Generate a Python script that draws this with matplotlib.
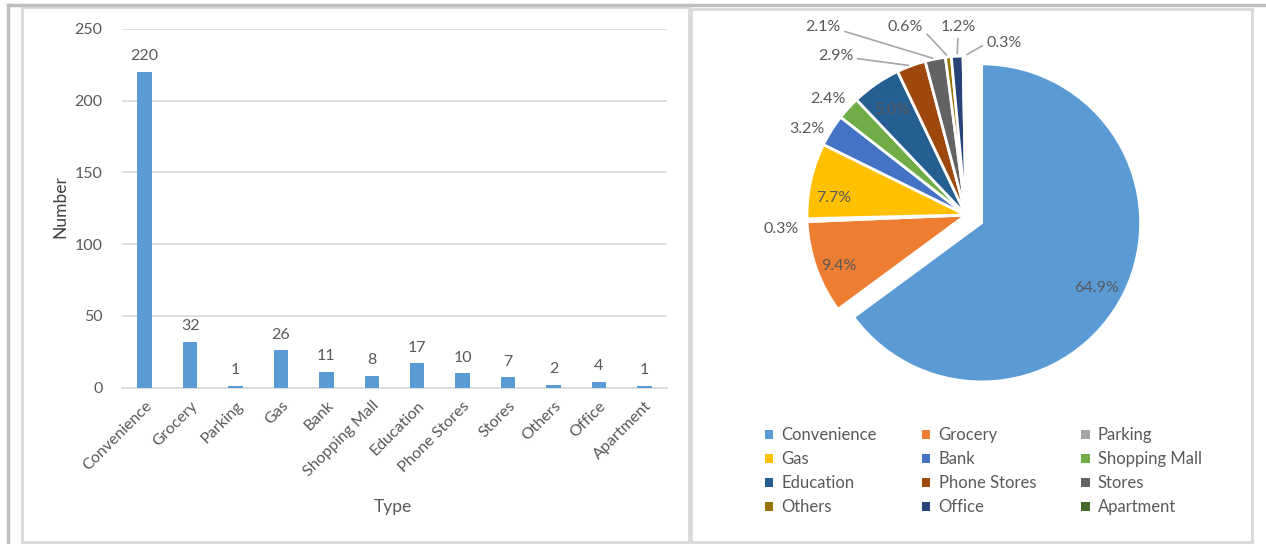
import numpy as np
import matplotlib.pyplot as plt
from matplotlib.patches import Rectangle
from matplotlib.lines import Line2D

plt.rcParams['font.family'] = ['Lato', 'DejaVu Sans']

# data
types = ['Convenience', 'Grocery', 'Parking', 'Gas', 'Bank', 'Shopping Mall',
         'Education', 'Phone Stores', 'Stores', 'Others', 'Office', 'Apartment']
counts = [220, 32, 1, 26, 11, 8, 17, 10, 7, 2, 4, 1]
yticks = [0, 50, 100, 150, 200, 250]

pie_colors = ['#5B9BD5', '#ED7D31', '#A5A5A5', '#FFC000', '#4472C4', '#70AD47',
              '#255E91', '#9E480E', '#636363', '#997300', '#264478', '#43682B']

W, H = 1266, 544
txt = '#595959'

fig = plt.figure(figsize=(W / 100, H / 100), dpi=100)

def fbox(x0, y0, x1, y1):
    # pixel box (top-left origin) -> figure fraction rect
    return [x0 / W, 1 - y1 / H, (x1 - x0) / W, (y1 - y0) / H]

# panel frames
fig.add_artist(Line2D([8 / W, 8 / W], [0, 1 - 5 / H], color='#BFBFBF', lw=2.5))
fig.add_artist(Line2D([8 / W, 1], [1 - 5 / H, 1 - 5 / H], color='#BFBFBF', lw=2.5))
for x0, y0, x1, y1 in [(22, 7, 689, 542), (691, 9, 1252, 542)]:
    r = fbox(x0, y0, x1, y1)
    fig.add_artist(Rectangle((r[0], r[1]), r[2], r[3], transform=fig.transFigure,
                             fill=False, edgecolor='#D9D9D9', lw=2))

# ---- bar chart ----
ax = fig.add_axes(fbox(122, 29, 667, 387.5))
x = np.arange(len(types))
bars = ax.bar(x, counts, width=0.32, color='#5B9BD5', zorder=3)
for b, v in zip(bars, counts):
    ax.text(b.get_x() + b.get_width() / 2, v + 6, str(v), ha='center', va='bottom',
            fontsize=11.5, color=txt)
ax.set_xlim(-0.5, len(types) - 0.5)
ax.set_ylim(0, 250)
ax.set_yticks(yticks)
ax.yaxis.grid(True, color='#D9D9D9', lw=1.2, zorder=0)
for s in ['top', 'right', 'left']:
    ax.spines[s].set_visible(False)
ax.spines['bottom'].set_color('#D9D9D9')
ax.spines['bottom'].set_linewidth(1.2)
ax.tick_params(axis='both', length=0, labelsize=11.5, labelcolor=txt)
ax.tick_params(axis='y', pad=14)
ax.set_xticks(x)
ax.set_xticklabels(types, rotation=45, ha='right', rotation_mode='anchor')
ax.tick_params(axis='x', pad=8)
fig.text(60 / W, 1 - 207 / H, 'Number', rotation=90, ha='center', va='center',
         fontsize=12.5, color='#404040')
fig.text(393 / W, 1 - 507 / H, 'Type', ha='center', va='center', fontsize=12.5, color=txt)

# ---- pie chart ----
cx, cy, R = 966, 215, 159
pax = fig.add_axes(fbox(691, 9, 1252, 542))

explode = [0.11] + [0.0] * (len(counts) - 1)
wedges, _ = pax.pie(counts, colors=pie_colors, startangle=90, counterclock=False,
                    explode=explode, radius=1.0,
                    wedgeprops=dict(edgecolor='white', linewidth=2))
pax.set_aspect('auto')
pax.set_xlim((691 - cx) / R, (1252 - cx) / R)
pax.set_ylim((cy - 542) / R, (cy - 9) / R)
pax.axis('off')

total = sum(counts)
pct = ['%.1f%%' % (100 * v / total) for v in counts]

# label positions (pie data units) and leader-line anchor on text (None = no line)
label_pos = [(0.82, -0.46), (-0.80, -0.32), (-1.16, -0.09), (-0.83, 0.11),
             (-1.00, 0.54), (-0.87, 0.73), (-0.47, 0.66), (-0.82, 1.00),
             (-0.90, 1.18), (-0.38, 1.18), (-0.05, 1.18), (0.24, 1.08)]
leader = [None, None, None, None, None, None, None, (1, 0.35),
          (1, 0.3), (1, 0.3), (0.5, 0), (0, 0.5)]

for w, p, pos, rel in zip(wedges, pct, label_pos, leader):
    if rel is None:
        pax.text(pos[0], pos[1], p, ha='center', va='center', fontsize=11.5, color=txt)
    else:
        ang = np.deg2rad((w.theta1 + w.theta2) / 2)
        ex = w.center[0] + np.cos(ang) * 1.0
        ey = w.center[1] + np.sin(ang) * 1.0
        pax.annotate(p, xy=(ex, ey), xytext=pos, ha='center', va='center',
                     fontsize=11.5, color=txt,
                     arrowprops=dict(arrowstyle='-', color='#A6A6A6', lw=1.2,
                                     relpos=rel, shrinkA=1, shrinkB=2))

# legend filled row by row (3 columns)
ncol = 3
order = [i for c in range(ncol) for i in range(c, len(types), ncol)]
handles = [Rectangle((0, 0), 1, 1, facecolor=pie_colors[i], edgecolor='none') for i in order]
labels = [types[i] for i in order]
pax.legend(handles, labels, loc='upper left', bbox_to_anchor=(0.105, 0.243),
           ncol=ncol, frameon=False, fontsize=12, handlelength=0.5,
           handleheight=0.5, handletextpad=0.5, columnspacing=2.7,
           labelspacing=0.48, labelcolor=txt)

fig.savefig('out.png', dpi=100)
